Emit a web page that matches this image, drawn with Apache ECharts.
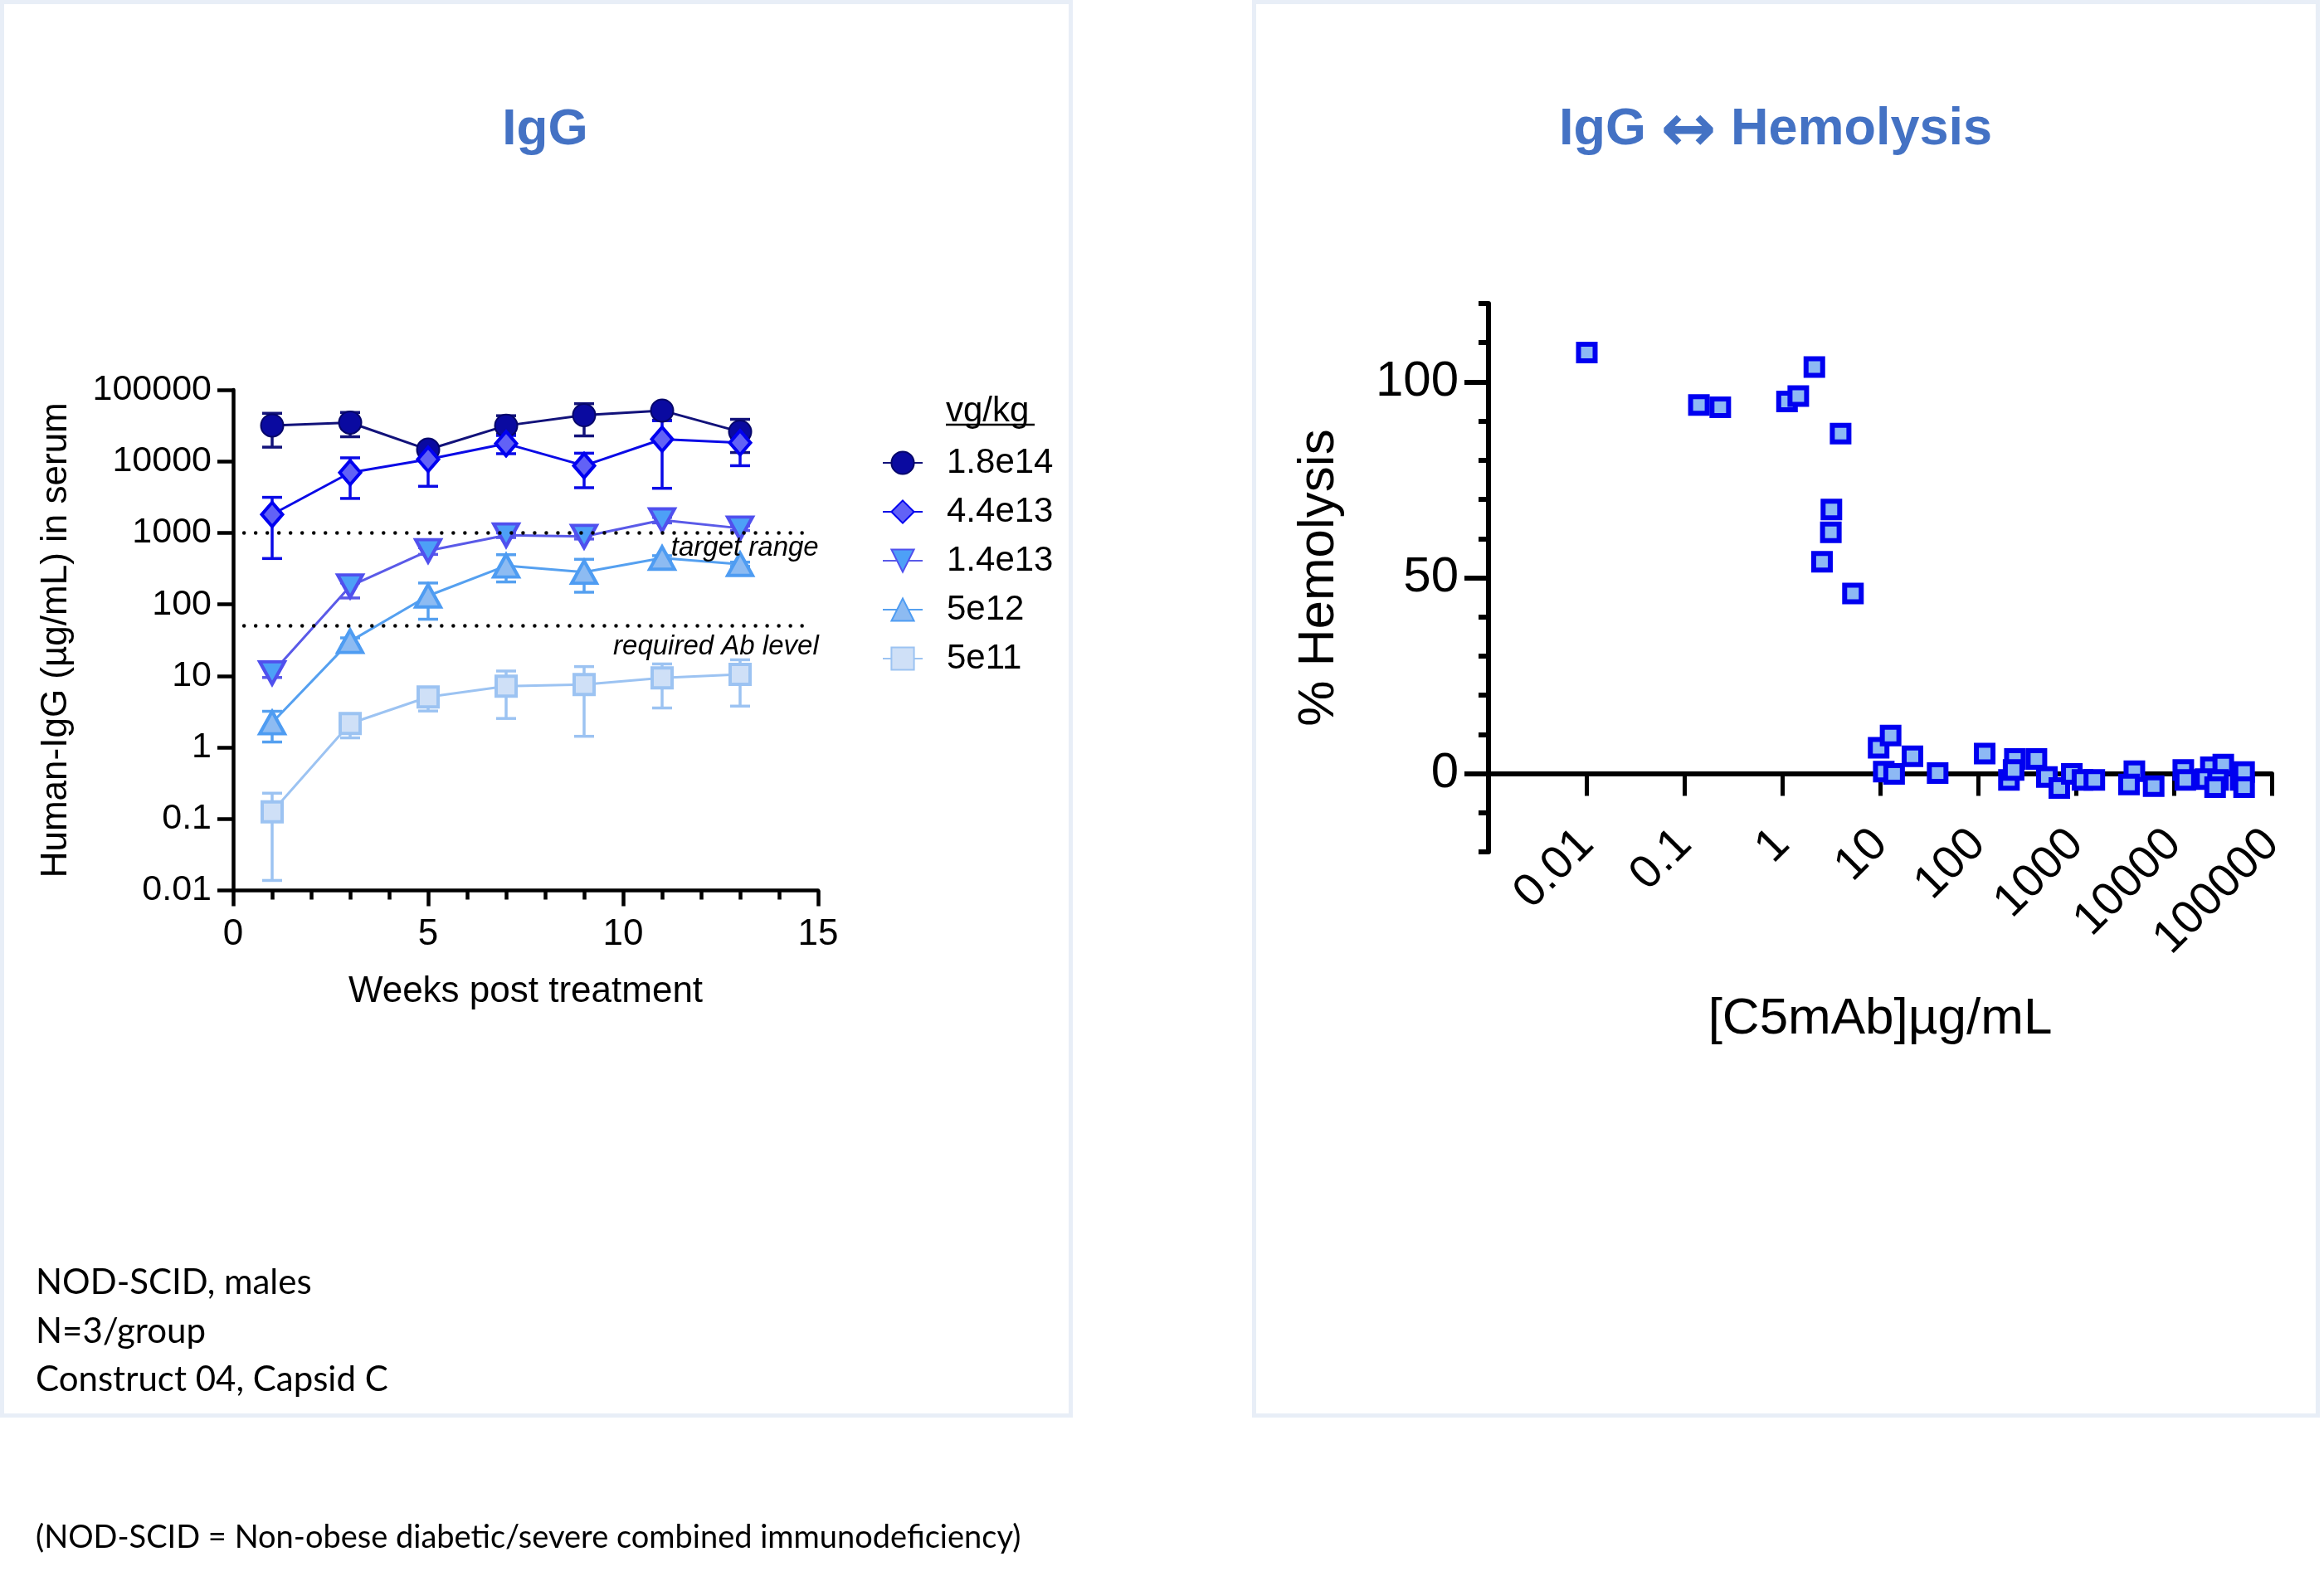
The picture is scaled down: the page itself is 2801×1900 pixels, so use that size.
<!DOCTYPE html>
<html><head><meta charset="utf-8">
<script src="https://cdn.jsdelivr.net/npm/echarts@6/dist/echarts.min.js"></script>
<style>html,body{margin:0;padding:0;background:#fff}#c{width:2801px;height:1900px}</style>
</head><body><div id="c"></div>
<script>
// ---------- DATA ----------
const weeks = [1, 3, 5, 7, 9, 11, 13];
const doseLabels = ['1.8e14', '4.4e13', '1.4e13', '5e12', '5e11'];

const igg_1_8e14     = [31800, 34800, 14600, 31600, 44200, 51400, 25900];
const igg_1_8e14_hi  = [47000, 48300, 16000, 43500, 64100, 56000, 38700];
const igg_1_8e14_lo  = [15800, 22100, 13500, 24000, 22700, 37700, 13300];

const igg_4_4e13     = [1810, 6970, 10700, 17700, 8710, 20400, 18200];
const igg_4_4e13_hi  = [3140, 11200, 14000, 23000, 13000, 37000, 25000];
const igg_4_4e13_lo  = [438, 3030, 4480, 12800, 4280, 4200, 8700];

const igg_1_4e13     = [11, 180, 561, 929, 889, 1510, 1160];
const igg_1_4e13_hi  = [13, 200, 620, 1000, 960, 1650, 1250];
const igg_1_4e13_lo  = [9.5, 123, 500, 860, 820, 1380, 1080];

const igg_5e12       = [2.22, 30.5, 132, 347, 283, 445, 364];
const igg_5e12_hi    = [3.2, 34, 199, 495, 427, 480, 390];
const igg_5e12_lo    = [1.19, 27, 62, 206, 148, 410, 340];

const igg_5e11       = [0.126, 2.16, 5.07, 7.17, 7.57, 9.36, 10.5];
const igg_5e11_hi    = [0.229, 2.5, 5.6, 11.7, 13.5, 14.7, 16.8];
const igg_5e11_lo    = [0.0138, 1.36, 3.23, 2.54, 1.43, 3.56, 3.78];

const targetRange = 1000;
const requiredAbLevel = 50;
const refLineStart = 0.28;
const refLineEnd = 14.76;

const yTickLabelsLeft = ['0.01', '0.1', '1', '10', '100', '1000', '10000', '100000'];
const xTickLabelsLeft = ['0', '5', '10', '15'];

// Hemolysis vs concentration
const c5mAbConc = [0.0101, 0.141, 0.233, 1.12, 1.46, 2.13, 3.95, 3.18, 3.14, 2.55, 5.28,
  9.66, 12.8, 21.4, 10.9, 13.9, 38.7, 117, 238, 395, 207, 231, 505, 677, 908, 1167, 1542,
  3954, 3483, 6223, 12500, 13100, 23900, 32000, 21100, 28300, 26400, 48100, 52200, 52200];
const hemolysisPct = [107.5, 94.1, 93.5, 95.0, 96.4, 103.8, 86.8, 67.4, 61.6, 54.1, 46.0,
  6.6, 9.7, 4.4, 0.5, -0.1, 0.1, 5.1, 3.7, 3.7, -1.6, 0.9, -0.9, -3.7, -0.1, -1.6, -1.6,
  0.6, -2.8, -3.2, 0.9, -1.6, 1.6, 2.3, -1.4, -1.6, -3.5, -1.6, 0.4, -3.5];
const xTickLabelsRight = ['0.01', '0.1', '1', '10', '100', '1000', '10000', '100000'];
const yTickLabelsRight = ['0', '50', '100'];
const yTickValuesRight = [0, 50, 100];

// ---------- STYLE ----------
const FONT = '"Liberation Sans", Arial, sans-serif';
const NOTE_FONT = 'Lato, "Open Sans", sans-serif';
const styles = [
  {line: '#12127A', fill: '#0A0AA0', border: '#06066A', symbol: 'circle', size: 27, bw: 2, rot: 0},
  {line: '#0A0AE6', fill: '#6262F6', border: '#0000F0', symbol: 'diamond', size: [25, 29], bw: 4, rot: 0},
  {line: '#5A5AE8', fill: '#4DA0F7', border: '#5050EE', symbol: 'triangle', size: [30, 27], bw: 4, rot: 180},
  {line: '#55A0F0', fill: '#8DBBF2', border: '#4E9CF2', symbol: 'triangle', size: [30, 27], bw: 4, rot: 0},
  {line: '#9CC3F2', fill: '#CFE0F7', border: '#9CC3F2', symbol: 'rect', size: 24, bw: 4, rot: 0}
];
const means = [igg_1_8e14, igg_4_4e13, igg_1_4e13, igg_5e12, igg_5e11];
const his = [igg_1_8e14_hi, igg_4_4e13_hi, igg_1_4e13_hi, igg_5e12_hi, igg_5e11_hi];
const los = [igg_1_8e14_lo, igg_4_4e13_lo, igg_1_4e13_lo, igg_5e12_lo, igg_5e11_lo];

function errRender(color) {
  return function (params, api) {
    const x = api.value(0), hi = api.value(1), lo = api.value(2);
    const a = api.coord([x, hi]), b = api.coord([x, lo]);
    const hw = 12, st = {stroke: color, lineWidth: 3.5};
    return {type: 'group', children: [
      {type: 'line', shape: {x1: a[0], y1: a[1], x2: b[0], y2: b[1]}, style: st},
      {type: 'line', shape: {x1: a[0] - hw, y1: a[1], x2: a[0] + hw, y2: a[1]}, style: st},
      {type: 'line', shape: {x1: b[0] - hw, y1: b[1], x2: b[0] + hw, y2: b[1]}, style: st}
    ]};
  };
}

const series = [];
doseLabels.forEach((name, i) => {
  const s = styles[i];
  series.push({
    name: name + ' SD', type: 'custom', xAxisIndex: 0, yAxisIndex: 0, z: 1,
    renderItem: errRender(s.line), encode: {x: 0, y: [1, 2]},
    data: weeks.map((w, k) => [w, his[i][k], los[i][k]]), silent: true
  });
});
doseLabels.forEach((name, i) => {
  const s = styles[i];
  const ser = {
    name: name, type: 'line', xAxisIndex: 0, yAxisIndex: 0, z: 3,
    data: weeks.map((w, k) => [w, means[i][k]]),
    symbol: s.symbol, symbolSize: s.size, symbolRotate: s.rot, showAllSymbol: true,
    lineStyle: {color: s.line, width: 3},
    itemStyle: {color: s.fill, borderColor: s.border, borderWidth: s.bw},
    emphasis: {disabled: true}
  };
  if (i === 0) {
    ser.markLine = {
      silent: true, symbol: ['none', 'none'],
      lineStyle: {color: '#000', width: 4.5, type: [0.01, 14], cap: 'round'},
      label: {show: true, position: 'insideEndBottom', formatter: '{b}', fontStyle: 'italic',
        fontFamily: FONT, fontSize: 33, color: '#000', distance: [-12, 2]},
      data: [
        [{name: 'target range', coord: [refLineStart, targetRange]}, {coord: [refLineEnd, targetRange]}],
        [{name: 'required Ab level', coord: [refLineStart, requiredAbLevel],
          label: {distance: [-12, 9]}}, {coord: [refLineEnd, requiredAbLevel]}]
      ]
    };
  }
  series.push(ser);
});
series.push({
  name: 'hemolysis', type: 'scatter', xAxisIndex: 1, yAxisIndex: 2, z: 3,
  data: c5mAbConc.map((c, k) => [c, hemolysisPct[k]]),
  symbol: 'rect', symbolSize: 20,
  itemStyle: {color: '#8DB9F4', borderColor: '#0000F0', borderWidth: 6, opacity: 1},
  emphasis: {disabled: true}
});

const axisBlack = w => ({show: true, lineStyle: {color: '#000', width: w}});

const option = {
  animation: false,
  backgroundColor: '#fff',
  textStyle: {fontFamily: FONT},
  grid: [
    {left: 281, top: 470, width: 705, height: 603.5, outerBoundsMode: 'none', containLabel: false},
    {left: 1794, top: 366, width: 944, height: 661, outerBoundsMode: 'none', containLabel: false}
  ],
  xAxis: [
    {gridIndex: 0, type: 'value', min: 0, max: 15, interval: 5,
      axisLine: {show: true, onZero: false, lineStyle: {color: '#000', width: 4.5}},
      axisTick: {show: true, length: 19, lineStyle: {color: '#000', width: 4.5}},
      minorTick: {show: true, splitNumber: 5, length: 11, lineStyle: {color: '#000', width: 4.5}},
      splitLine: {show: false}, minorSplitLine: {show: false},
      axisLabel: {show: true, fontSize: 44, color: '#000', margin: 31, fontFamily: FONT,
        formatter: v => xTickLabelsLeft[Math.round(v / 5)] ?? ''},
      name: 'Weeks post treatment', nameLocation: 'middle', nameGap: 100, nameMoveOverlap: false,
      nameTextStyle: {fontSize: 44, color: '#000', fontFamily: FONT}},
    {gridIndex: 1, type: 'log', logBase: 10, min: 0.001, max: 100000,
      axisLine: {show: true, onZero: true, onZeroAxisIndex: 2, lineStyle: {color: '#000', width: 6}},
      axisTick: {show: true, length: 27, lineStyle: {color: '#000', width: 5}},
      splitLine: {show: false},
      axisLabel: {show: true, rotate: 45, fontSize: 56, color: '#000', margin: -18, fontFamily: FONT,
        hideOverlap: false,
        formatter: v => { const e = Math.round(Math.log10(v)); return e >= -2 ? (xTickLabelsRight[e + 2] ?? '') : ''; }},
      name: '[C5mAb]µg/mL', nameLocation: 'middle', nameGap: 171, nameMoveOverlap: false,
      nameTextStyle: {fontSize: 62, color: '#000', fontFamily: FONT}}
  ],
  yAxis: [
    {gridIndex: 0, type: 'log', logBase: 10, min: 0.01, max: 100000,
      axisLine: axisBlack(4.5),
      axisTick: {show: true, length: 19, lineStyle: {color: '#000', width: 4.5}},
      splitLine: {show: false},
      axisLabel: {show: true, fontSize: 43, color: '#000', margin: 26, fontFamily: FONT,
        formatter: v => yTickLabelsLeft[Math.round(Math.log10(v)) + 2] ?? ''},
      name: 'Human-IgG (µg/mL) in serum', nameLocation: 'middle', nameGap: 191, nameMoveOverlap: false,
      nameTextStyle: {fontSize: 44, color: '#000', fontFamily: FONT}},
    {gridIndex: 1, type: 'value', min: -20, max: 120, interval: 10, position: 'left', offset: 0,
      axisLine: {show: false, onZero: false},
      axisTick: {show: true, length: 12, lineStyle: {color: '#000', width: 6}},
      axisLabel: {show: false}, splitLine: {show: false}},
    {gridIndex: 1, type: 'value', min: -20, max: 120, interval: 10, position: 'left', offset: 0,
      axisLine: {show: true, onZero: false, lineStyle: {color: '#000', width: 6}},
      axisTick: {show: true, length: 29, customValues: yTickValuesRight, lineStyle: {color: '#000', width: 6}},
      axisLabel: {show: true, customValues: yTickValuesRight, fontSize: 60, color: '#000', margin: 36, fontFamily: FONT,
        formatter: v => yTickLabelsRight[yTickValuesRight.indexOf(Math.round(v))] ?? ''},
      splitLine: {show: false},
      name: '% Hemolysis', nameLocation: 'middle', nameGap: 173, nameMoveOverlap: false,
      nameTextStyle: {fontSize: 62, color: '#000', fontFamily: FONT}}
  ],
  legend: {
    data: doseLabels, orient: 'vertical', left: 1063, top: 537, padding: 0,
    itemWidth: 48, itemHeight: 34, itemGap: 17,
    textStyle: {fontSize: 42, color: '#000', fontFamily: FONT, padding: [0, 0, 0, 24]},
    selectedMode: false
  },
  graphic: [
    {type: 'rect', z: -10, shape: {x: 2.5, y: 2.5, width: 1288, height: 1704}, style: {fill: '#fff', stroke: '#E8EEF7', lineWidth: 5}},
    {type: 'rect', z: -10, shape: {x: 1511.5, y: 2.5, width: 1282, height: 1704}, style: {fill: '#fff', stroke: '#E8EEF7', lineWidth: 5}},
    {type: 'text', x: 657, y: 157, style: {text: 'IgG', fontSize: 62, fontWeight: 'bold', fontFamily: FONT, fill: '#4472C4', align: 'center', verticalAlign: 'middle'}},
    {type: 'text', x: 2140, y: 157, style: {
      text: 'IgG {a|\u2194} Hemolysis', fontSize: 63, fontWeight: 'bold', fontFamily: FONT, fill: '#4472C4',
      align: 'center', verticalAlign: 'middle',
      rich: {a: {fontFamily: '"DejaVu Sans", sans-serif', fontSize: 80, fontWeight: 'bold', fill: '#4472C4', padding: [8, 0, 0, 0]}}}},
    {type: 'text', x: 1140, y: 496, style: {text: 'vg/kg', fontSize: 42, fontFamily: FONT, fill: '#000', align: 'left', verticalAlign: 'middle'}},
    {type: 'line', shape: {x1: 1140, y1: 512, x2: 1247, y2: 512}, style: {stroke: '#000', lineWidth: 2.5}},
    {type: 'text', x: 43, y: 1546, style: {text: 'NOD-SCID, males', fontSize: 42, fontFamily: NOTE_FONT, fill: '#000', align: 'left', verticalAlign: 'middle'}},
    {type: 'text', x: 43, y: 1605, style: {text: 'N=3/group', fontSize: 42, fontFamily: NOTE_FONT, fill: '#000', align: 'left', verticalAlign: 'middle'}},
    {type: 'text', x: 43, y: 1663, style: {text: 'Construct 04, Capsid C', fontSize: 42, fontFamily: NOTE_FONT, fill: '#000', align: 'left', verticalAlign: 'middle'}},
    {type: 'text', x: 43, y: 1854, style: {text: '(NOD-SCID = Non-obese diabetic/severe combined immunodeficiency)', fontSize: 38, fontFamily: NOTE_FONT, fill: '#000', align: 'left', verticalAlign: 'middle'}}
  ],
  series: series
};

const chart = echarts.init(document.getElementById('c'), null, {renderer: 'canvas', width: 2801, height: 1900});
chart.setOption(option);
</script>
</body></html>
